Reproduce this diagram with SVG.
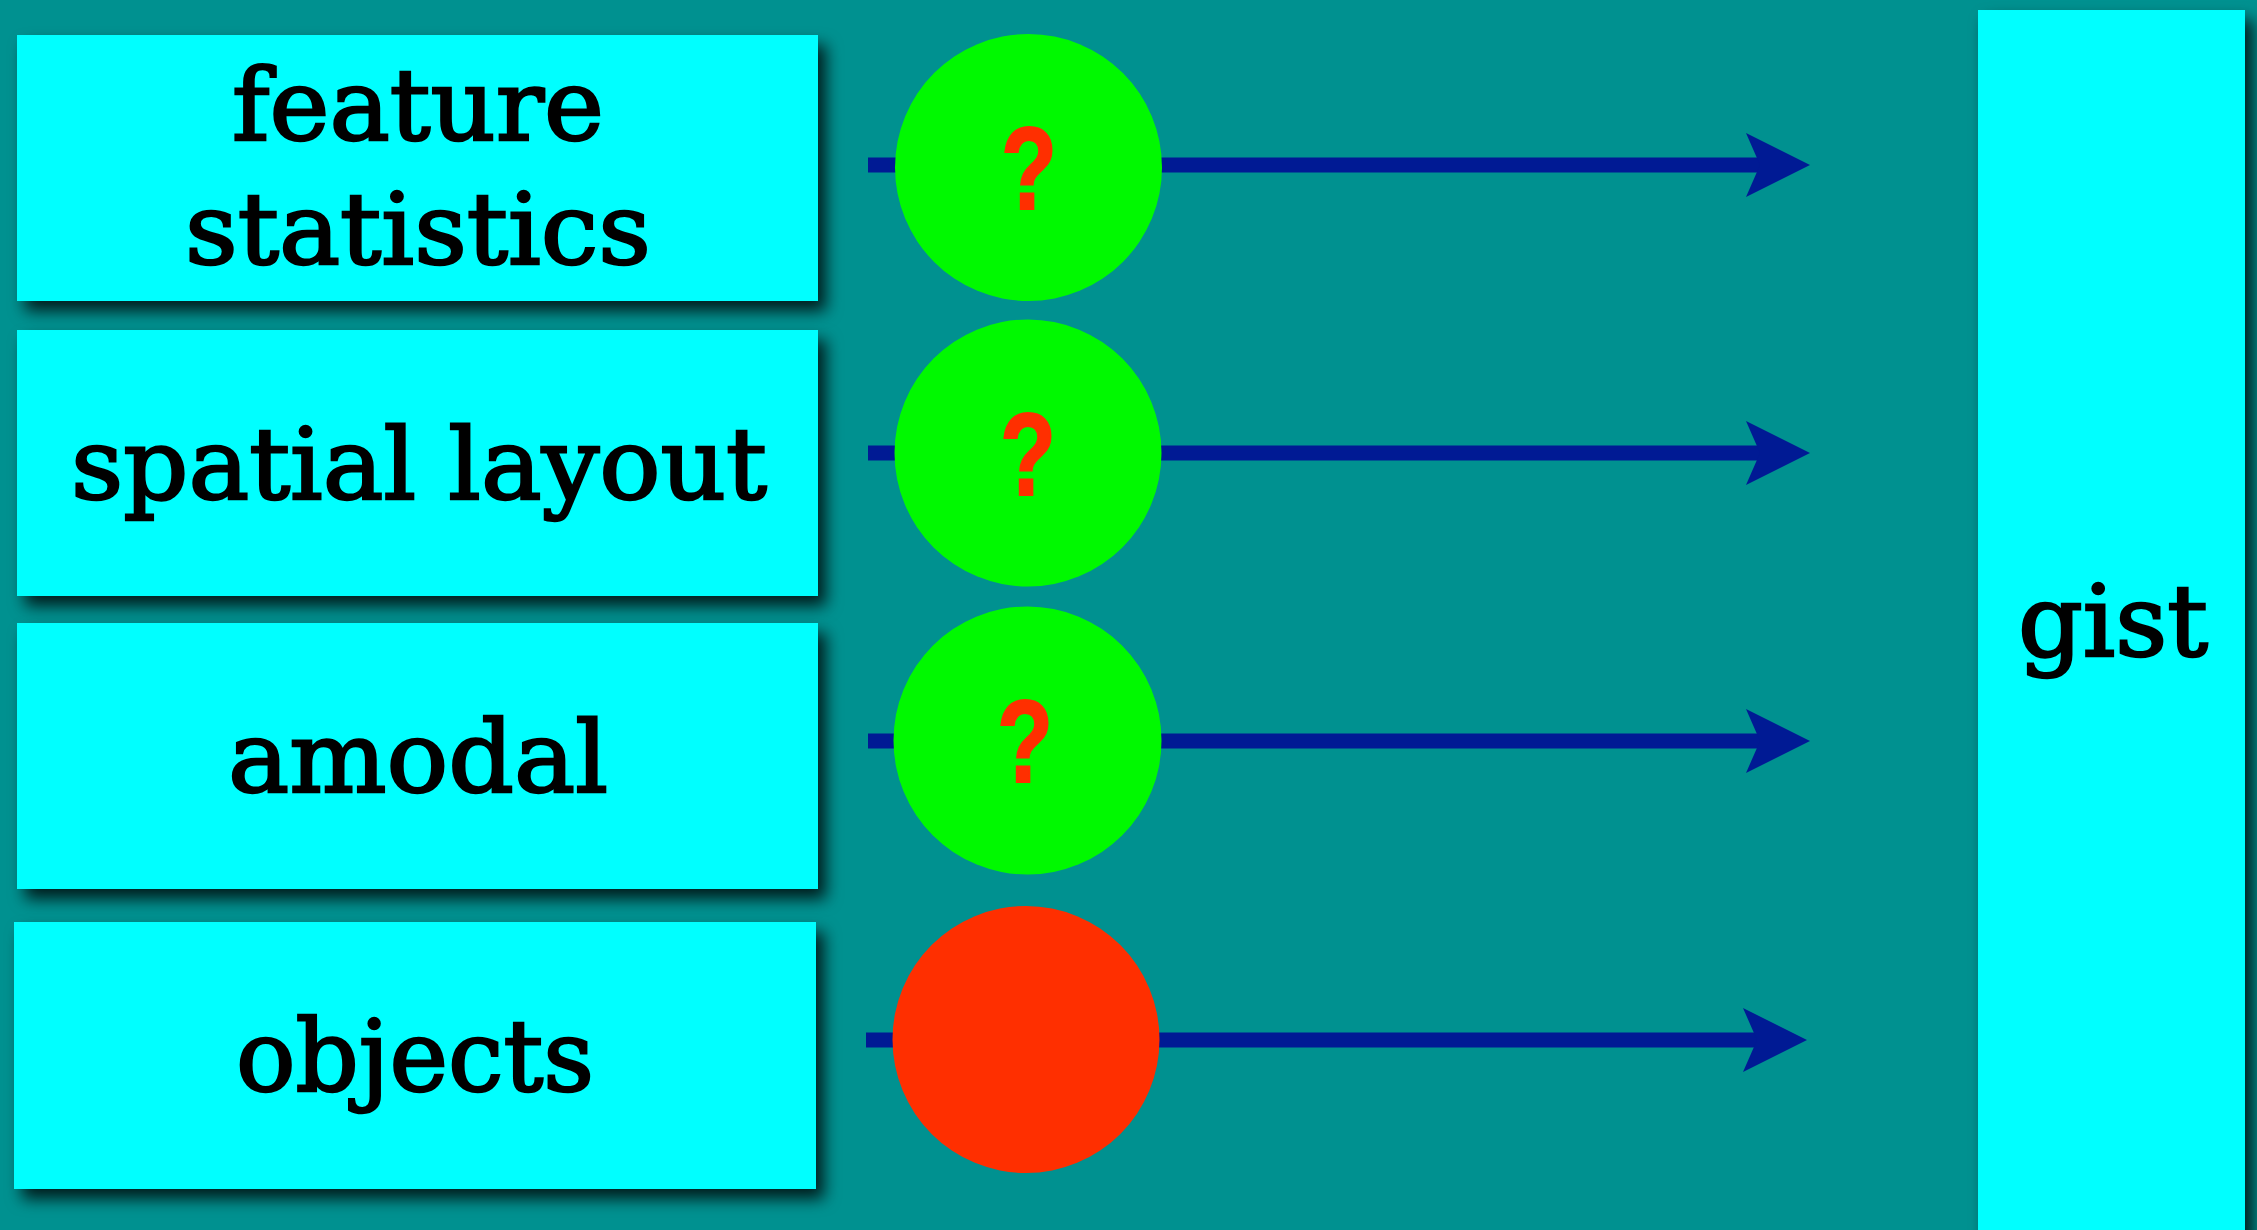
<svg xmlns="http://www.w3.org/2000/svg" width="2257" height="1230" viewBox="0 0 2257 1230">
  <defs>
    <filter id="shadow" x="-10%" y="-10%" width="130%" height="130%">
      <feDropShadow dx="8" dy="10" stdDeviation="8" flood-color="#000000" flood-opacity="0.8"/>
    </filter>
    <marker id="arrow" viewBox="0 0 64 64" markerWidth="64" markerHeight="64" refX="14" refY="32" orient="auto" markerUnits="userSpaceOnUse">
      <path d="M0,0 L64,32 L0,64 L14,32 Z" fill="#001a94"/>
    </marker>
  </defs>
  <style>
    .box { fill: #00ffff; filter: url(#shadow); }
    .lbl { font-family: "DejaVu Serif", "Liberation Serif", serif; font-size: 100px; fill: #000000; stroke: #000000; stroke-width: 2.5; text-anchor: middle; }
    .conn { stroke: #001a94; stroke-width: 15; fill: none; marker-end: url(#arrow); }
    .good { fill: #00f900; }
    .bad { fill: #ff2f00; }
    .q { font-family: "Liberation Sans", Arial, sans-serif; font-weight: bold; font-size: 116px; fill: #ff2f00; stroke: #ff2f00; stroke-width: 2; text-anchor: middle; }
  </style>
  <rect x="0" y="0" width="2257" height="1230" fill="#009190"/>

  <g id="node-feature-statistics">
    <rect class="box" x="17" y="35" width="801" height="266"/>
    <text class="lbl" x="418" y="140" textLength="372" lengthAdjust="spacingAndGlyphs">feature</text>
    <text class="lbl" x="418" y="264" textLength="466" lengthAdjust="spacingAndGlyphs">statistics</text>
  </g>
  <g id="node-spatial-layout">
    <rect class="box" x="17" y="330" width="801" height="266"/>
    <text class="lbl" x="419" y="499" textLength="696" lengthAdjust="spacingAndGlyphs">spatial layout</text>
  </g>
  <g id="node-amodal">
    <rect class="box" x="17" y="623" width="801" height="266"/>
    <text class="lbl" x="418" y="792" textLength="380" lengthAdjust="spacingAndGlyphs">amodal</text>
  </g>
  <g id="node-objects">
    <rect class="box" x="14" y="922" width="802" height="267"/>
    <text class="lbl" x="415" y="1091" textLength="358" lengthAdjust="spacingAndGlyphs">objects</text>
  </g>
  <g id="node-gist">
    <rect class="box" x="1978" y="10" width="267" height="1240"/>
    <text class="lbl" x="2113" y="656" textLength="190" lengthAdjust="spacingAndGlyphs">gist</text>
  </g>

  <g id="connectors">
    <line class="conn" x1="868" y1="165" x2="1760" y2="165"/>
    <line class="conn" x1="868" y1="453" x2="1760" y2="453"/>
    <line class="conn" x1="868" y1="741" x2="1760" y2="741"/>
    <line class="conn" x1="866" y1="1040" x2="1757" y2="1040"/>
  </g>

  <g id="node-circle-1">
    <circle class="good" cx="1028.5" cy="167.5" r="133.5"/>
    <text class="q" x="1029" y="209" textLength="56" lengthAdjust="spacingAndGlyphs">?</text>
  </g>
  <g id="node-circle-2">
    <circle class="good" cx="1028" cy="453" r="133.5"/>
    <text class="q" x="1028" y="495" textLength="56" lengthAdjust="spacingAndGlyphs">?</text>
  </g>
  <g id="node-circle-3">
    <circle class="good" cx="1027.5" cy="740.5" r="134"/>
    <text class="q" x="1025" y="782" textLength="56" lengthAdjust="spacingAndGlyphs">?</text>
  </g>
  <g id="node-circle-4">
    <circle class="bad" cx="1026" cy="1039.5" r="133.5"/>
  </g>
</svg>
